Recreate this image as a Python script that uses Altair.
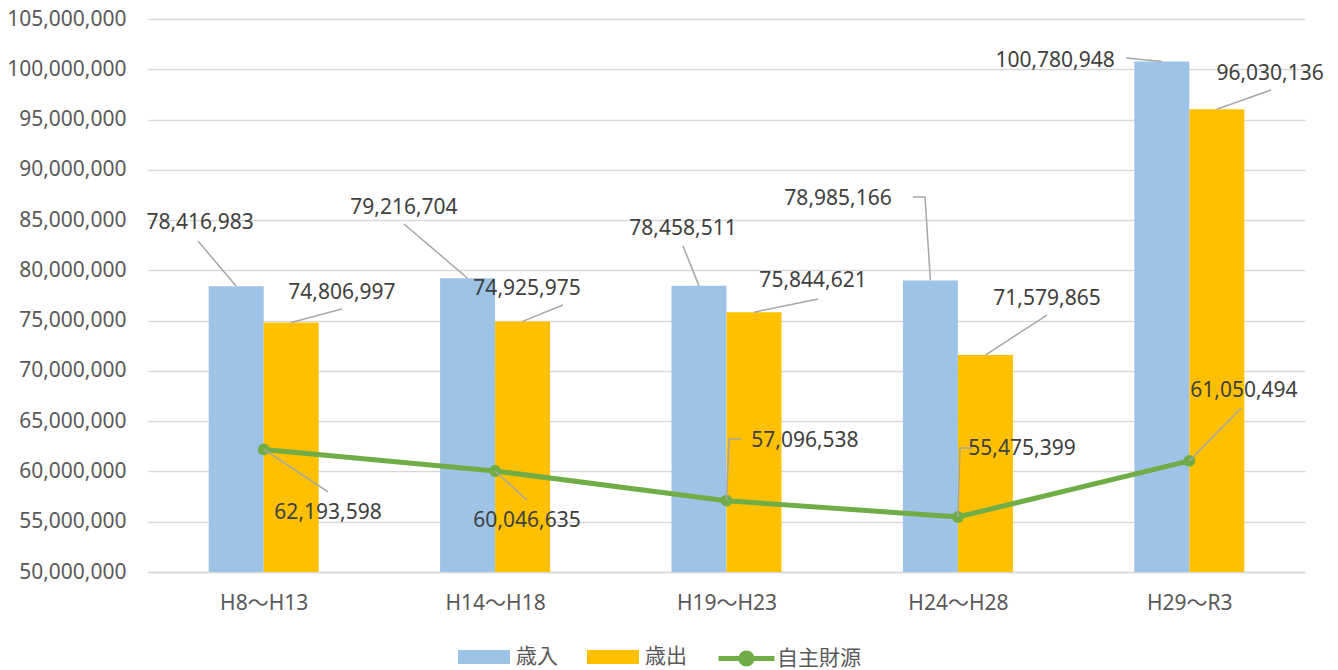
import json
import altair as alt
import pandas as pd

# ---- data -------------------------------------------------------------
categories = ["H8～H13", "H14～H18", "H19～H23", "H24～H28", "H29～R3"]
revenue = [78416983, 79216704, 78458511, 78985166, 100780948]       # 歳入
expenditure = [74806997, 74925975, 75844621, 71579865, 96030136]    # 歳出
own_revenue = [62193598, 60046635, 57096538, 55475399, 61050494]    # 自主財源

y_ticks = [50000000 + 5000000 * i for i in range(12)]

# ---- annotation layout (label anchors, leader bend points) ------------
rev_label_x = [-0.275, 0.606, 1.812, 2.482, 3.420]
rev_label_y = [84.71e6, 86.20e6, 84.11e6, 87.10e6, 100.82e6]
exp_label_x = [0.338, 1.138, 2.374, 3.385, 4.349]
exp_label_y = [77.75e6, 78.15e6, 78.94e6, 77.15e6, 99.53e6]
own_label_x = [0.278, 1.138, 2.339, 3.277, 4.236]
own_label_y = [55.87e6, 55.07e6, 63.03e6, 62.23e6, 68.00e6]

rev_leader = [[(-0.284, 82.92e6)], [(0.606, 84.61e6)], [(1.812, 82.42e6)],
              [(2.806, 87.30e6), (2.858, 87.30e6)], [(3.727, 101.12e6)]]
exp_leader = [[(0.338, 76.16e6)], [(1.293, 76.55e6)], [(2.396, 77.15e6)],
              [(3.385, 75.56e6)], [(4.353, 97.94e6)]]
own_leader = [[(0.278, 57.96e6)], [(1.138, 57.16e6)],
              [(2.063, 63.23e6), (2.011, 63.23e6)],
              [(3.061, 62.33e6), (3.009, 62.33e6)], [(4.224, 66.31e6)]]

BAR_W = 0.2377
BLUE, ORANGE, GREEN = "#9DC3E6", "#FFC000", "#70AD47"
GRID = "#D9D9D9"
FONT = "Noto Sans, Noto Sans CJK JP"

# ---- tables -----------------------------------------------------------
bars = []
for i, c in enumerate(categories):
    bars.append({"idx": i, "series": "歳入", "value": revenue[i], "off": -BAR_W})
    bars.append({"idx": i, "series": "歳出", "value": expenditure[i], "off": 0.0})
bars_df = pd.DataFrame(bars)

line_df = pd.DataFrame({"idx": list(range(len(categories))),
                        "value": own_revenue,
                        "name": ["自主財源"] * len(categories)})

labels = []
leaders = []
for i in range(len(categories)):
    for key, vals, lx, ly, lead, endx in [
        ("rev", revenue, rev_label_x, rev_label_y, rev_leader, i - BAR_W / 2),
        ("exp", expenditure, exp_label_x, exp_label_y, exp_leader, i + BAR_W / 2),
        ("own", own_revenue, own_label_x, own_label_y, own_leader, i),
    ]:
        labels.append({"x": lx[i], "y": ly[i], "value": vals[i]})
        pts = lead[i] + [(endx, vals[i])]
        for k, (px, py) in enumerate(pts):
            leaders.append({"id": f"{key}{i}", "ord": k, "x": px, "y": py})
labels_df = pd.DataFrame(labels)
leaders_df = pd.DataFrame(leaders)

# ---- scales -----------------------------------------------------------
xscale = alt.Scale(domain=[-0.5, len(categories) - 0.5], nice=False, zero=False)
yscale = alt.Scale(domain=[50000000, 105000000], nice=False, zero=False)

label_expr = json.dumps(categories, ensure_ascii=False) + "[datum.value]"

x_axis = alt.Axis(values=list(range(len(categories))), labelExpr=label_expr,
                  ticks=False, grid=False, domainColor=GRID, domainWidth=1.5,
                  labelFont=FONT, labelFontSize=21, labelColor="#595959",
                  labelPadding=20, title=None)
y_axis = alt.Axis(values=y_ticks, format=",d", ticks=False, domain=False,
                  gridColor=GRID, gridWidth=1.5, labelFont=FONT,
                  labelFontSize=21, labelColor="#595959", labelPadding=22,
                  title=None)

bar_layer = alt.Chart(bars_df).transform_calculate(
    x0="datum.idx + datum.off", x1=f"datum.idx + datum.off + {BAR_W}"
).mark_bar().encode(
    x=alt.X("x0:Q", scale=xscale, axis=x_axis),
    x2="x1:Q",
    y=alt.Y("value:Q", scale=yscale, axis=y_axis),
    y2=alt.datum(50000000),
    color=alt.Color("series:N",
                    scale=alt.Scale(domain=["歳入", "歳出"], range=[BLUE, ORANGE]),
                    legend=alt.Legend(title=None, orient="none", direction="horizontal",
                                      legendX=310, legendY=612, padding=0,
                                      symbolType="M-1,-0.27H1V0.27H-1Z",
                                      symbolSize=2704, symbolStrokeWidth=0,
                                      labelFont=FONT, labelFontSize=21,
                                      labelColor="#595959", labelOffset=6,
                                      columnPadding=29)),
)

line_layer = alt.Chart(line_df).mark_line(
    strokeWidth=5,
    point=alt.OverlayMarkDef(size=140, filled=True, color=GREEN, opacity=1),
).encode(
    x=alt.X("idx:Q", scale=xscale),
    y=alt.Y("value:Q", scale=yscale),
    color=alt.Color("name:N", scale=alt.Scale(domain=["自主財源"], range=[GREEN]),
                    legend=alt.Legend(title=None, orient="none", direction="horizontal",
                                      legendX=568, legendY=609, padding=0,
                                      symbolType="M-1,0L1,0M0.2,0A0.2,0.2 0 1,1 -0.2,0A0.2,0.2 0 1,1 0.2,0",
                                      symbolSize=3136, symbolStrokeWidth=5,
                                      symbolFillColor=GREEN,
                                      labelFont=FONT, labelFontSize=21,
                                      labelColor="#595959", labelOffset=0)),
)

leader_layer = alt.Chart(leaders_df).mark_line(color="#A6A6A6", strokeWidth=1.5).encode(
    x=alt.X("x:Q", scale=xscale),
    y=alt.Y("y:Q", scale=yscale),
    detail="id:N",
    order=alt.Order("ord:Q"),
)

text_layer = alt.Chart(labels_df).mark_text(
    font=FONT, fontSize=21, color="#404040", align="center", baseline="middle"
).encode(
    x=alt.X("x:Q", scale=xscale),
    y=alt.Y("y:Q", scale=yscale),
    text=alt.Text("value:Q", format=",d"),
)

chart = alt.layer(bar_layer, line_layer, leader_layer, text_layer).resolve_scale(
    color="independent"
).properties(
    width=1157, height=553,
    autosize=alt.AutoSizeParams(type="none"),
    padding={"left": 140, "top": 11, "right": 25, "bottom": 97},
).configure_view(stroke=None)

chart.save("out.html", embed_options={"renderer": "svg", "actions": False})
